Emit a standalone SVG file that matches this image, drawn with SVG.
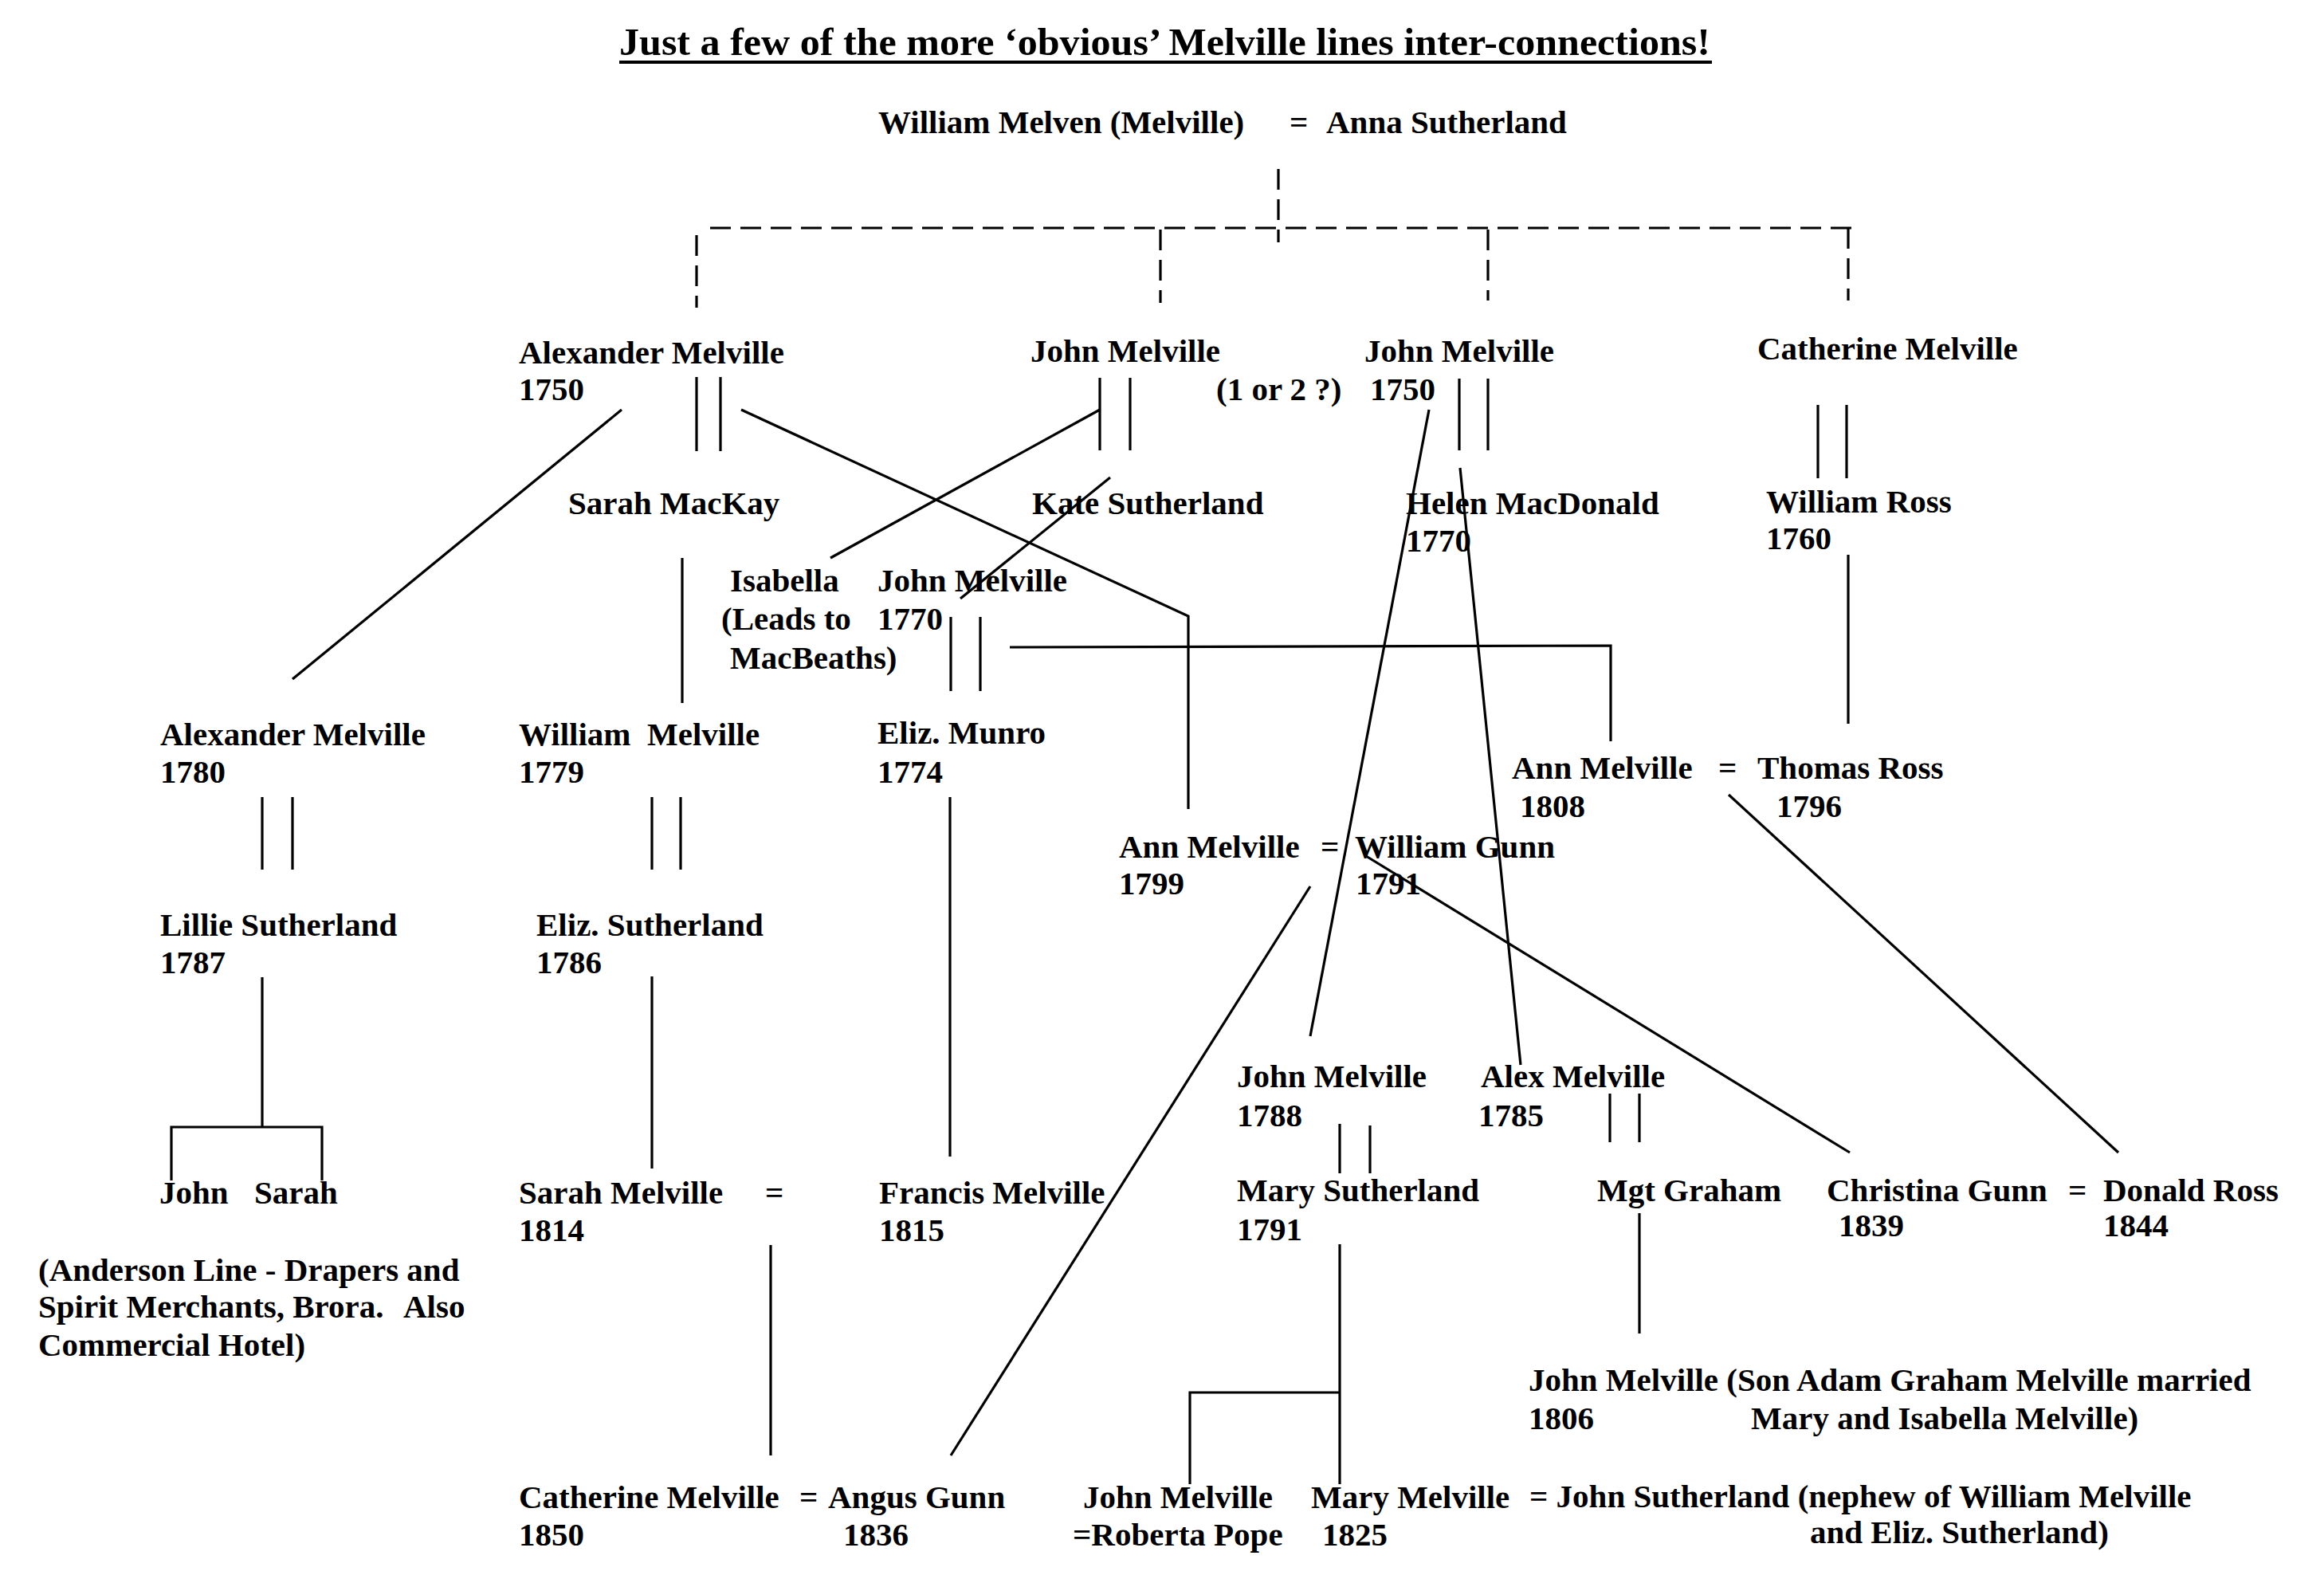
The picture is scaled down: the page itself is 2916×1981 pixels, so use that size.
<svg xmlns="http://www.w3.org/2000/svg" width="2916" height="1981" viewBox="0 0 2916 1981">
<style>
.t{font-family:"Liberation Serif","Times New Roman",serif;font-weight:bold;font-size:41px;fill:#000}
.ttl{font-family:"Liberation Serif","Times New Roman",serif;font-weight:bold;font-size:49px;fill:#000}
.c{stroke:#000;stroke-width:3.2;fill:none}
.d{stroke:#000;stroke-width:3.2;fill:none;stroke-dasharray:26 12}
</style>
<rect x="0" y="0" width="2916" height="1981" fill="#fff"/>
<g id="title">
<text class="ttl" x="777" y="69" textLength="1369" lengthAdjust="spacingAndGlyphs">Just a few of the more ‘obvious’ Melville lines inter-connections!</text>
<line x1="777" y1="78" x2="2148" y2="78" stroke="#000" stroke-width="4"/>
</g>
<g id="connectors">
<path class="d" d="M1604 212 V304"/>
<path class="d" d="M891 286 H2323"/>
<path class="d" d="M874 295 V386"/>
<path class="d" d="M1456 288 V380"/>
<path class="d" d="M1867 288 V377"/>
<path class="d" d="M2319 286 V377"/>
<path class="c" d="M874 473 V566 M904 473 V566"/>
<path class="c" d="M1380 474 V565 M1418 474 V565"/>
<path class="c" d="M1831 475 V565 M1867 475 V565"/>
<path class="c" d="M2281 508 V600 M2317 508 V600"/>
<path class="c" d="M780 514 L367 852"/>
<path class="c" d="M930 514 L1491 773 V1015"/>
<path class="c" d="M1380 514 L1042 700"/>
<path class="c" d="M1393 599 L1205 751"/>
<path class="c" d="M856 700 V882"/>
<path class="c" d="M1193 774 V867 M1230 774 V867"/>
<path class="c" d="M1267 812 L2021 810 V930"/>
<path class="c" d="M1793 514 L1644 1300"/>
<path class="c" d="M1832 587 L1908 1336"/>
<path class="c" d="M2319 696 V908"/>
<path class="c" d="M2169 997 L2658 1446"/>
<path class="c" d="M329 1000 V1091 M367 1000 V1091"/>
<path class="c" d="M818 1000 V1091 M854 1000 V1091"/>
<path class="c" d="M1192 1000 V1451"/>
<path class="c" d="M1644 1112 L1193 1826"/>
<path class="c" d="M1714 1074 L2321 1446"/>
<path class="c" d="M329 1226 V1414"/>
<path class="c" d="M215 1481 V1414 H404 V1481"/>
<path class="c" d="M818 1225 V1466"/>
<path class="c" d="M967 1562 V1826"/>
<path class="c" d="M1681 1410 V1472 M1719 1412 V1472"/>
<path class="c" d="M2020 1372 V1433 M2057 1372 V1433"/>
<path class="c" d="M1681 1561 V1862"/>
<path class="c" d="M1493 1862 V1747 H1681"/>
<path class="c" d="M2057 1522 V1673"/>
</g>
<g id="n-william-melven"><text class="t" x="1102" y="167">William Melven (Melville)</text><text class="t" x="1618" y="167">=</text><text class="t" x="1664" y="167">Anna Sutherland</text></g>
<g id="n-alexander-1750"><text class="t" x="651" y="456">Alexander Melville</text><text class="t" x="651" y="502">1750</text></g>
<g id="n-john-melville-a"><text class="t" x="1293" y="454">John Melville</text></g>
<g id="n-john-melville-1750"><text class="t" x="1526" y="502">(1 or 2 ?)</text><text class="t" x="1712" y="454">John Melville</text><text class="t" x="1719" y="502">1750</text></g>
<g id="n-catherine-melville"><text class="t" x="2205" y="451">Catherine Melville</text></g>
<g id="n-sarah-mackay"><text class="t" x="713" y="645">Sarah MacKay</text></g>
<g id="n-kate-sutherland"><text class="t" x="1295" y="645">Kate Sutherland</text></g>
<g id="n-helen-macdonald"><text class="t" x="1764" y="645">Helen MacDonald</text><text class="t" x="1764" y="692">1770</text></g>
<g id="n-william-ross"><text class="t" x="2216" y="643">William Ross</text><text class="t" x="2216" y="689">1760</text></g>
<g id="n-isabella"><text class="t" x="916" y="742">Isabella</text><text class="t" x="905" y="790">(Leads to</text><text class="t" x="916" y="839">MacBeaths)</text></g>
<g id="n-john-melville-1770"><text class="t" x="1101" y="742">John Melville</text><text class="t" x="1101" y="790">1770</text></g>
<g id="n-alexander-1780"><text class="t" x="201" y="935">Alexander Melville</text><text class="t" x="201" y="982">1780</text></g>
<g id="n-william-melville-1779"><text class="t" x="651" y="935">William</text><text class="t" x="812" y="935">Melville</text><text class="t" x="651" y="982">1779</text></g>
<g id="n-eliz-munro"><text class="t" x="1101" y="933">Eliz. Munro</text><text class="t" x="1101" y="982">1774</text></g>
<g id="n-ann-melville-1808"><text class="t" x="1897" y="977">Ann Melville</text><text class="t" x="1907" y="1025">1808</text><text class="t" x="2156" y="977">=</text></g>
<g id="n-thomas-ross"><text class="t" x="2205" y="977">Thomas Ross</text><text class="t" x="2229" y="1025">1796</text></g>
<g id="n-ann-melville-1799"><text class="t" x="1404" y="1076">Ann Melville</text><text class="t" x="1404" y="1122">1799</text><text class="t" x="1657" y="1076">=</text></g>
<g id="n-william-gunn"><text class="t" x="1700" y="1076">William Gunn</text><text class="t" x="1701" y="1122">1791</text></g>
<g id="n-lillie-sutherland"><text class="t" x="201" y="1174">Lillie Sutherland</text><text class="t" x="201" y="1221">1787</text></g>
<g id="n-eliz-sutherland"><text class="t" x="673" y="1174">Eliz. Sutherland</text><text class="t" x="673" y="1221">1786</text></g>
<g id="n-john-melville-1788"><text class="t" x="1552" y="1364">John Melville</text><text class="t" x="1552" y="1413">1788</text></g>
<g id="n-alex-melville-1785"><text class="t" x="1858" y="1364">Alex Melville</text><text class="t" x="1855" y="1413">1785</text></g>
<g id="n-john"><text class="t" x="200" y="1510">John</text></g>
<g id="n-sarah"><text class="t" x="319" y="1510">Sarah</text></g>
<g id="n-anderson-note"><text class="t" x="48" y="1607">(Anderson Line - Drapers and</text><text class="t" x="48" y="1653">Spirit Merchants, Brora.</text><text class="t" x="506" y="1653">Also</text><text class="t" x="48" y="1701">Commercial Hotel)</text></g>
<g id="n-sarah-melville-1814"><text class="t" x="651" y="1510">Sarah Melville</text><text class="t" x="651" y="1557">1814</text><text class="t" x="960" y="1510">=</text></g>
<g id="n-francis-melville"><text class="t" x="1103" y="1510">Francis Melville</text><text class="t" x="1103" y="1557">1815</text></g>
<g id="n-mary-sutherland"><text class="t" x="1552" y="1507">Mary Sutherland</text><text class="t" x="1552" y="1556">1791</text></g>
<g id="n-mgt-graham"><text class="t" x="2004" y="1507">Mgt Graham</text></g>
<g id="n-christina-gunn"><text class="t" x="2292" y="1507">Christina Gunn</text><text class="t" x="2307" y="1551">1839</text><text class="t" x="2595" y="1507">=</text></g>
<g id="n-donald-ross"><text class="t" x="2639" y="1507">Donald Ross</text><text class="t" x="2639" y="1551">1844</text></g>
<g id="n-john-melville-1806"><text class="t" x="1918" y="1745">John Melville (Son Adam Graham Melville married</text><text class="t" x="1918" y="1793">1806</text><text class="t" x="2197" y="1793">Mary and Isabella Melville)</text></g>
<g id="n-catherine-melville-1850"><text class="t" x="651" y="1892">Catherine Melville</text><text class="t" x="651" y="1939">1850</text><text class="t" x="1003" y="1892">=</text></g>
<g id="n-angus-gunn"><text class="t" x="1039" y="1892">Angus Gunn</text><text class="t" x="1058" y="1939">1836</text></g>
<g id="n-john-melville-roberta"><text class="t" x="1359" y="1892">John Melville</text><text class="t" x="1346" y="1939">=Roberta Pope</text></g>
<g id="n-mary-melville-1825"><text class="t" x="1645" y="1892">Mary Melville</text><text class="t" x="1659" y="1939">1825</text></g>
<g id="n-john-sutherland"><text class="t" x="1919" y="1891">= John Sutherland (nephew of William Melville</text><text class="t" x="2271" y="1936">and Eliz. Sutherland)</text></g>
</svg>
